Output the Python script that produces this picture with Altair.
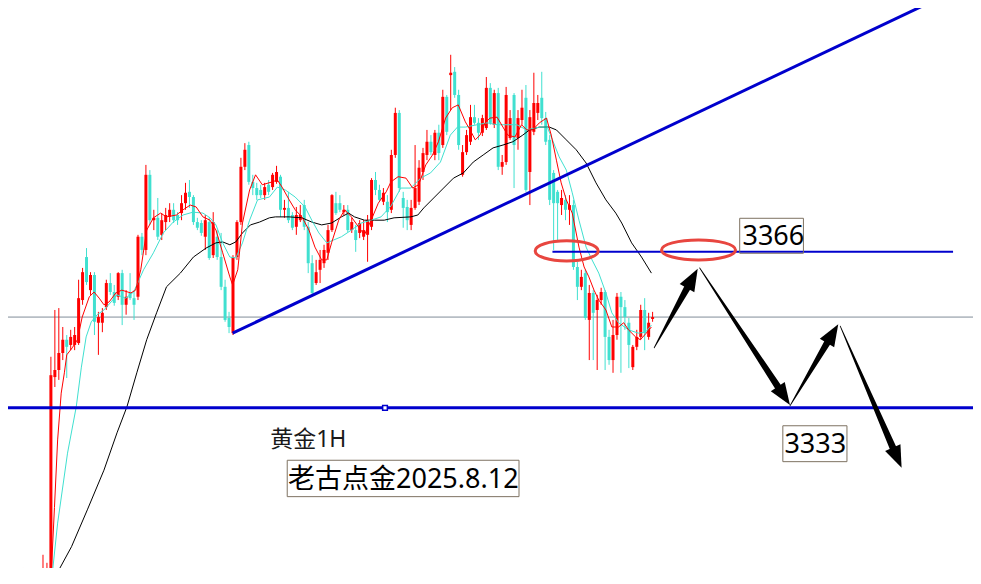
import math
import altair as alt
import pandas as pd

# ---------------- data ----------------
# candle index (one step = one hourly bar)
CANDLE_K = [-5, -4] + list(range(0, 155))

OPEN = [3292.0, 3295.5,
    3294.5, 3296.6, 3295.0, 3339.5, 3341.0, 3344.6, 3347.4, 3346.3, 3346.3, 3346.7,
    3355.8, 3364.9, 3357.9, 3361.1, 3351.0, 3351.0, 3354.3, 3359.4, 3357.5, 3356.5,
    3361.5, 3354.8, 3357.3, 3356.2, 3356.5, 3369.2, 3366.4, 3382.3, 3372.7, 3373.2,
    3369.6, 3372.3, 3373.4, 3374.9, 3373.8, 3374.2, 3376.3, 3378.7, 3377.6, 3372.3,
    3372.1, 3369.2, 3372.3, 3365.3, 3369.2, 3364.9, 3358.6, 3352.0, 3348.8, 3364.9,
    3372.3, 3384.0, 3388.6, 3380.8, 3379.5, 3379.1, 3378.0, 3380.2, 3379.7, 3380.8,
    3381.9, 3374.9, 3375.3, 3373.8, 3371.3, 3372.7, 3375.9, 3371.3, 3363.6, 3359.4,
    3362.2, 3363.6, 3365.8, 3370.6, 3376.3, 3376.3, 3374.4, 3374.9, 3370.6, 3370.6,
    3370.0, 3369.2, 3369.6, 3371.3, 3381.2, 3379.1, 3376.6, 3376.6, 3374.9, 3386.5,
    3395.4, 3377.4, 3375.5, 3371.7, 3375.3, 3376.6, 3382.9, 3386.5, 3389.3, 3386.5,
    3391.2, 3388.6, 3398.8, 3403.4, 3404.1, 3399.2, 3382.3, 3387.1, 3389.3, 3394.5,
    3393.3, 3391.2, 3392.2, 3400.7, 3392.9, 3399.6, 3384.0, 3385.0, 3390.1, 3399.2,
    3390.1, 3393.9, 3398.6, 3382.9, 3391.4, 3395.4, 3398.6, 3394.3, 3389.7, 3382.7,
    3378.7, 3375.9, 3377.0, 3374.9, 3375.9, 3362.8, 3358.6, 3361.5, 3351.6, 3357.3,
    3353.7, 3355.8, 3357.5, 3348.0, 3343.1, 3348.4, 3356.5, 3354.3, 3351.0, 3341.6,
    3345.9, 3348.0, 3353.7, 3348.0, 3351.8]

HIGH = [3299.1, 3296.1,
    3301.9, 3300.2, 3343.8, 3353.7, 3354.1, 3350.1, 3348.4, 3349.5, 3350.1, 3360.1,
    3362.6, 3366.8, 3361.7, 3361.7, 3353.3, 3354.1, 3360.1, 3361.5, 3359.0, 3361.7,
    3362.2, 3357.9, 3361.5, 3357.9, 3369.6, 3370.0, 3384.4, 3383.3, 3374.9, 3377.4,
    3374.2, 3375.3, 3376.3, 3376.3, 3374.4, 3378.0, 3380.6, 3381.2, 3378.0, 3373.2,
    3372.7, 3373.8, 3373.4, 3374.4, 3370.6, 3370.0, 3360.1, 3353.3, 3365.3, 3372.7,
    3385.9, 3389.0, 3389.3, 3382.3, 3380.6, 3380.2, 3380.6, 3381.2, 3382.7, 3384.2,
    3382.3, 3377.0, 3378.7, 3374.4, 3375.5, 3375.9, 3377.0, 3372.3, 3365.3, 3364.3,
    3366.4, 3367.5, 3371.7, 3378.2, 3378.7, 3378.0, 3375.9, 3375.9, 3373.2, 3371.7,
    3372.7, 3372.7, 3373.8, 3381.6, 3382.9, 3380.2, 3379.5, 3378.0, 3387.6, 3396.5,
    3396.0, 3378.7, 3377.0, 3377.0, 3388.6, 3385.4, 3388.0, 3391.8, 3390.7, 3391.8,
    3392.9, 3400.3, 3399.2, 3407.7, 3405.1, 3400.3, 3388.6, 3391.8, 3397.1, 3397.1,
    3394.3, 3395.0, 3403.0, 3401.7, 3400.3, 3400.7, 3386.5, 3400.9, 3396.0, 3399.6,
    3396.0, 3400.3, 3401.3, 3396.0, 3403.9, 3399.2, 3404.1, 3395.6, 3390.7, 3383.3,
    3379.1, 3379.1, 3378.0, 3378.0, 3377.0, 3363.9, 3362.2, 3362.2, 3359.0, 3357.9,
    3356.9, 3358.4, 3357.9, 3349.5, 3351.6, 3357.3, 3357.5, 3355.8, 3352.0, 3346.3,
    3349.5, 3354.8, 3356.2, 3353.1, 3353.3]

LOW = [3290.0, 3291.0,
    3293.0, 3294.0, 3294.0, 3337.4, 3338.9, 3343.1, 3339.3, 3345.2, 3345.2, 3346.3,
    3354.8, 3359.0, 3356.9, 3348.4, 3344.2, 3349.0, 3353.7, 3356.9, 3354.6, 3355.8,
    3350.5, 3352.7, 3355.8, 3351.6, 3355.8, 3365.3, 3365.3, 3371.7, 3370.6, 3368.5,
    3368.5, 3370.6, 3372.3, 3372.1, 3371.7, 3372.7, 3374.9, 3375.3, 3371.7, 3370.6,
    3369.4, 3366.4, 3364.3, 3364.7, 3364.3, 3357.9, 3351.2, 3348.8, 3348.4, 3364.3,
    3371.7, 3383.3, 3380.2, 3378.0, 3377.0, 3377.4, 3377.0, 3378.0, 3379.1, 3380.4,
    3373.4, 3373.2, 3372.1, 3370.6, 3369.6, 3372.3, 3370.6, 3361.5, 3357.0, 3359.0,
    3359.4, 3362.6, 3364.3, 3370.2, 3373.8, 3374.4, 3373.8, 3370.2, 3370.0, 3366.0,
    3368.9, 3368.5, 3363.9, 3370.6, 3378.0, 3376.6, 3375.9, 3372.3, 3374.2, 3385.9,
    3378.7, 3371.1, 3370.6, 3370.6, 3374.9, 3375.9, 3381.2, 3385.4, 3386.5, 3385.4,
    3385.4, 3388.0, 3390.7, 3396.0, 3398.6, 3387.6, 3381.9, 3386.5, 3388.6, 3392.9,
    3389.7, 3390.5, 3391.8, 3392.9, 3392.2, 3383.3, 3382.3, 3384.4, 3389.7, 3379.5,
    3387.6, 3392.9, 3378.7, 3375.9, 3390.7, 3393.9, 3392.9, 3388.6, 3375.9, 3366.4,
    3368.5, 3373.8, 3372.7, 3371.7, 3362.2, 3355.8, 3357.9, 3351.6, 3343.1, 3343.1,
    3341.0, 3354.8, 3341.0, 3342.1, 3340.4, 3347.4, 3340.4, 3349.5, 3341.4, 3341.0,
    3345.2, 3347.4, 3345.2, 3347.4, 3351.2]

CLOSE = [3294.0, 3293.0,
    3299.1, 3298.9, 3339.9, 3341.0, 3344.6, 3347.4, 3345.9, 3348.0, 3348.4, 3356.2,
    3361.7, 3359.6, 3361.1, 3351.2, 3352.2, 3353.1, 3359.4, 3357.5, 3355.2, 3361.5,
    3354.8, 3356.5, 3356.2, 3354.8, 3369.2, 3366.4, 3382.3, 3372.7, 3373.2, 3369.2,
    3372.7, 3373.8, 3374.9, 3372.7, 3372.7, 3376.3, 3378.5, 3377.6, 3372.3, 3371.1,
    3370.0, 3372.7, 3364.7, 3372.3, 3364.9, 3358.6, 3351.6, 3350.1, 3364.9, 3372.3,
    3384.0, 3387.6, 3380.8, 3379.5, 3378.0, 3378.0, 3379.7, 3378.7, 3382.3, 3382.9,
    3374.9, 3375.3, 3372.7, 3371.1, 3373.8, 3373.8, 3371.3, 3363.6, 3357.3, 3361.7,
    3364.3, 3366.4, 3370.6, 3378.0, 3374.2, 3374.9, 3374.9, 3370.6, 3372.3, 3368.5,
    3372.1, 3370.6, 3372.7, 3381.2, 3379.1, 3377.0, 3378.5, 3374.4, 3386.5, 3395.4,
    3379.5, 3375.3, 3372.7, 3375.3, 3379.5, 3383.8, 3386.9, 3389.3, 3387.1, 3391.2,
    3386.9, 3398.8, 3391.4, 3403.9, 3399.2, 3388.6, 3387.1, 3390.7, 3394.5, 3393.3,
    3391.2, 3394.3, 3400.7, 3393.3, 3399.6, 3384.0, 3385.0, 3399.2, 3394.3, 3388.6,
    3394.3, 3396.5, 3379.1, 3394.5, 3397.5, 3397.5, 3394.3, 3389.3, 3377.0, 3376.3,
    3376.3, 3377.4, 3374.9, 3375.9, 3362.8, 3358.6, 3360.7, 3352.0, 3357.3, 3353.1,
    3355.8, 3357.5, 3348.0, 3343.1, 3348.4, 3356.5, 3354.3, 3352.2, 3346.3, 3345.9,
    3348.0, 3353.7, 3348.8, 3351.0, 3352.2]

# moving averages (bar index, price)
MA_FAST_K = [2.1, 2.9, 3.7, 4.6, 5.4, 6.0, 7.4, 8.7, 9.9, 11.7, 12.9, 14.2, 15.4, 16.7, 18.4,
             19.9, 22.2, 23.4, 24.7, 26.2, 27.9, 29.7, 31.2, 33.7, 35.4, 37.2, 38.7, 40.4, 42.2,
             43.7, 45.4, 47.2, 47.9, 49.2, 50.4, 52.2, 53.7, 55.4, 57.9, 59.2, 60.4, 62.2, 63.7,
             65.4, 67.2, 68.7, 70.4, 71.7, 72.9, 74.7, 76.2, 77.9, 79.7, 81.2, 82.9, 84.7, 86.7,
             87.9, 89.7, 91.7, 93.4, 94.9, 96.7, 98.4, 99.9, 101.7, 103.4, 104.9, 106.7, 107.9,
             109.2, 110.4, 111.7, 112.9, 114.7, 116.2, 117.4, 119.2, 120.9, 122.2, 123.7, 125.4,
             127.2, 128.4, 129.7, 130.9, 132.2, 133.7, 135.4, 136.7, 137.9, 139.2, 140.4, 142.2,
             143.7, 145.4, 146.7, 147.9, 149.7, 150.9, 152.4, 153.7]
MA_FAST_P = [3298.1, 3311.9, 3326.2, 3336.1, 3340.4, 3344.2, 3345.7, 3347.4, 3352.2, 3356.5,
             3357.5, 3356.2, 3354.8, 3355.4, 3357.3, 3357.9, 3357.3, 3357.9, 3362.2, 3370.6,
             3373.2, 3374.2, 3373.4, 3373.8, 3374.9, 3375.9, 3375.5, 3373.4, 3372.7, 3370.6,
             3365.8, 3360.7, 3359.0, 3362.2, 3372.1, 3379.1, 3382.3, 3380.2, 3380.8, 3381.2,
             3379.7, 3377.0, 3374.9, 3373.4, 3370.6, 3367.0, 3364.3, 3364.3, 3367.9, 3372.7,
             3374.9, 3373.4, 3371.3, 3369.6, 3372.7, 3376.3, 3378.7, 3380.8, 3381.9, 3381.6,
             3379.5, 3380.2, 3384.4, 3386.5, 3389.3, 3394.3, 3396.5, 3397.1, 3393.5, 3391.8,
             3389.7, 3390.7, 3393.3, 3394.3, 3394.5, 3392.4, 3390.7, 3390.3, 3392.9, 3391.8,
             3391.8, 3393.3, 3394.3, 3390.7, 3385.4, 3380.6, 3377.0, 3374.2, 3367.0, 3362.8,
             3360.7, 3357.9, 3355.8, 3353.7, 3350.1, 3350.1, 3351.0, 3349.5, 3348.0, 3347.4,
             3348.8, 3350.1]

MA_MID_K = [2.1, 3.7, 6.2, 8.4, 9.7, 10.9, 12.2, 13.7, 15.4, 17.2, 18.7, 20.9, 22.9, 25.4,
            27.9, 30.4, 32.9, 35.4, 37.9, 40.4, 42.2, 43.7, 45.4, 47.2, 48.7, 50.4, 52.2, 54.2,
            57.2, 59.2, 61.2, 63.7, 66.2, 67.9, 69.7, 71.7, 73.4, 75.4, 77.9, 80.4, 82.9, 85.4,
            87.9, 90.4, 92.9, 95.4, 97.9, 100.4, 102.9, 104.7, 106.7, 109.7, 112.2, 114.7, 117.2,
            119.7, 122.2, 125.4, 127.4, 128.7, 130.4, 132.2, 133.7, 135.4, 137.2, 138.7, 140.4,
            142.2, 143.7, 145.4, 147.9, 150.4, 152.2, 153.7]
MA_MID_P = [3295.9, 3308.6, 3323.4, 3333.2, 3341.6, 3348.0, 3351.2, 3352.7, 3353.7, 3355.4,
            3356.9, 3356.2, 3357.5, 3362.2, 3365.8, 3370.0, 3372.3, 3373.8, 3374.4, 3374.2,
            3373.2, 3371.7, 3367.9, 3364.9, 3364.7, 3367.9, 3372.7, 3377.0, 3377.6, 3379.7,
            3379.1, 3377.6, 3375.5, 3372.7, 3370.0, 3367.9, 3368.5, 3369.2, 3370.6, 3372.1,
            3372.7, 3373.4, 3375.7, 3379.5, 3379.5, 3381.6, 3382.7, 3385.0, 3390.7, 3392.4,
            3392.4, 3392.9, 3393.3, 3392.9, 3392.9, 3392.9, 3391.8, 3392.4, 3392.4, 3389.7,
            3386.1, 3383.3, 3378.5, 3372.7, 3367.0, 3364.3, 3361.5, 3357.3, 3353.1, 3351.0,
            3349.5, 3348.8, 3349.0, 3350.5]

MA_SLOW_K = [2.2, 7.2, 11.2, 15.4, 18.7, 21.2, 23.7, 26.2, 28.7, 31.2, 34.7, 38.0, 41.2, 43.7,
             45.4, 47.2, 48.7, 50.4, 52.4, 54.7, 57.2, 58.7, 62.2, 65.4, 67.9, 70.4, 72.9, 75.4,
             77.2, 78.7, 81.2, 83.7, 86.2, 88.7, 92.9, 94.7, 96.2, 98.7, 101.2, 103.7, 106.2,
             108.7, 111.2, 113.7, 116.2, 118.7, 121.2, 122.9, 125.4, 127.9, 129.7, 132.2, 134.7,
             137.2, 139.7, 142.2, 144.7, 146.2, 148.7, 151.2, 153.7]
MA_SLOW_P = [3295.9, 3303.6, 3311.4, 3319.8, 3327.7, 3333.2, 3340.4, 3347.4, 3353.1, 3358.6,
             3361.5, 3364.9, 3366.8, 3367.9, 3368.1, 3367.5, 3368.1, 3370.0, 3371.7, 3372.3,
             3373.2, 3373.4, 3373.4, 3373.2, 3372.3, 3371.7, 3372.1, 3373.4, 3374.2, 3373.4,
             3372.7, 3372.7, 3372.7, 3373.2, 3373.4, 3373.8, 3375.3, 3377.4, 3379.5, 3381.6,
             3382.7, 3385.0, 3386.5, 3388.0, 3388.6, 3389.3, 3390.7, 3391.8, 3392.4, 3392.4,
             3391.8, 3389.7, 3387.6, 3384.8, 3380.6, 3377.0, 3374.2, 3372.1, 3367.9, 3364.9,
             3361.5]

# drawn objects (bar index, price)
TREND_K = [47.9, 225.4]
TREND_P = [3348.8, 3419.3]
LEVEL_HIGH = 3366.0
LEVEL_HIGH_K = [128.7, 229.9]
LEVEL_LOW = 3333.0
LEVEL_LOW_HANDLE_K = 86.4
LAST_PRICE = 3352.2

ELLIPSE_K = [132.3, 165.6]
ELLIPSE_P = [3366.2, 3366.4]

ARROW_TAIL_K = [154.4, 165.9, 188.7, 201.4]
ARROW_TAIL_P = [3345.7, 3362.6, 3333.4, 3350.3]
ARROW_TIP_K = [165.4, 188.7, 200.9, 216.9]
ARROW_TIP_P = [3362.4, 3333.6, 3350.7, 3320.3]

LABELS = ["3366", "3333", "黄金1H", "老古点金2025.8.12"]
LABEL_K = [176.7, 187.3, 57.4, 61.9]
LABEL_P = [3367.5, 3323.4, 3324.7, 3316.0]
BOX_K = [176.0, 186.9, 61.7]
BOX_K2 = [192.1, 203.1, 120.25]
BOX_P = [3373.1, 3329.2, 3321.9]
BOX_P2 = [3365.7, 3321.6, 3314.2]

# ---------------- scales ----------------
W, H = 965, 560
X_DOM = [-7.575, -7.575 + W / 4.0]
Y_DOM = [3299.1, 3417.6]
PX_K = W / (X_DOM[1] - X_DOM[0])
PX_P = H / (Y_DOM[1] - Y_DOM[0])

xs = alt.Scale(domain=X_DOM, nice=False, zero=False)
ys = alt.Scale(domain=Y_DOM, nice=False, zero=False)
X = lambda f: alt.X(f, type="quantitative", scale=xs, axis=None)
Y = lambda f: alt.Y(f, type="quantitative", scale=ys, axis=None)

RED = "#ff0000"
CYAN = "#40e0d0"
BLUE = "#0000cd"

candles = pd.DataFrame({"k": CANDLE_K, "o": OPEN, "h": HIGH, "l": LOW, "c": CLOSE})
candles["d"] = ["up" if c >= o else "down" for o, c in zip(candles.o, candles.c)]
cscale = alt.Color("d:N", scale=alt.Scale(domain=["up", "down"], range=[RED, CYAN]), legend=None)

wicks = alt.Chart(candles).mark_rule(strokeWidth=1, clip=True).encode(
    x=X("k"), y=Y("l"), y2="h", color=cscale)
bodies = alt.Chart(candles).mark_bar(size=3, clip=True).encode(
    x=X("k"), y=Y("o"), y2="c", color=cscale)

def ma_layer(ks, ps, col):
    df = pd.DataFrame({"k": ks, "p": ps})
    return alt.Chart(df).mark_line(color=col, strokeWidth=1, clip=True).encode(
        x=X("k"), y=Y("p"), order="k:Q")

ma_slow = ma_layer(MA_SLOW_K, MA_SLOW_P, "black")
ma_mid = ma_layer(MA_MID_K, MA_MID_P, CYAN)
ma_fast = ma_layer(MA_FAST_K, MA_FAST_P, RED)

last_line = alt.Chart(pd.DataFrame({"p": [LAST_PRICE]})).mark_rule(
    color="#808c98", strokeWidth=1).encode(y=Y("p"))
low_line = alt.Chart(pd.DataFrame({"p": [LEVEL_LOW]})).mark_rule(
    color=BLUE, strokeWidth=3).encode(y=Y("p"))
handle = alt.Chart(pd.DataFrame({"k": [LEVEL_LOW_HANDLE_K], "p": [LEVEL_LOW]})).mark_square(
    size=22, filled=True, fill="white", stroke=BLUE, strokeWidth=1.5, opacity=1).encode(
    x=X("k"), y=Y("p"))
high_line = alt.Chart(pd.DataFrame({"k": [LEVEL_HIGH_K[0]], "k2": [LEVEL_HIGH_K[1]],
                                    "p": [LEVEL_HIGH]})).mark_rule(
    color=BLUE, strokeWidth=2, clip=True).encode(x=X("k"), x2="k2", y=Y("p"))
trend = alt.Chart(pd.DataFrame({"k": [TREND_K[0]], "k2": [TREND_K[1]],
                                "p": [TREND_P[0]], "p2": [TREND_P[1]]})).mark_rule(
    color=BLUE, strokeWidth=3, clip=True).encode(x=X("k"), x2="k2", y=Y("p"), y2="p2")

ell1 = alt.Chart(pd.DataFrame({"k": [ELLIPSE_K[0]], "p": [ELLIPSE_P[0]]})).mark_point(
    shape="M -1 0 A 1 0.32 0 1 0 1 0 A 1 0.32 0 1 0 -1 0", filled=False,
    color="#e8463f", strokeWidth=3, size=63 * 63, opacity=1).encode(x=X("k"), y=Y("p"))
ell2 = alt.Chart(pd.DataFrame({"k": [ELLIPSE_K[1]], "p": [ELLIPSE_P[1]]})).mark_point(
    shape="M -1 0 A 1 0.27 0 1 0 1 0 A 1 0.27 0 1 0 -1 0", filled=False,
    color="#e8463f", strokeWidth=3, size=74 * 74, opacity=1).encode(x=X("k"), y=Y("p"))

# arrows: tapered shaft (trail) + triangular head
HEAD_LEN = 22.0
trail_rows, head_rows = [], []
for i, (k0, p0, k1, p1) in enumerate(zip(ARROW_TAIL_K, ARROW_TAIL_P, ARROW_TIP_K, ARROW_TIP_P)):
    dx = (k1 - k0) * PX_K
    dy = -(p1 - p0) * PX_P
    L = math.hypot(dx, dy)
    f = HEAD_LEN * 0.8 / L
    trail_rows.append({"a": i, "o": 0, "k": k0, "p": p0, "w": 0.8})
    trail_rows.append({"a": i, "o": 1, "k": k1 - (k1 - k0) * f, "p": p1 - (p1 - p0) * f, "w": 7.0})
    ang = math.degrees(math.atan2(dx, -dy)) % 360
    head_rows.append({"k": k1, "p": p1, "ang": ang})

shafts = alt.Chart(pd.DataFrame(trail_rows)).mark_trail(color="black").encode(
    x=X("k"), y=Y("p"), size=alt.Size("w:Q", scale=None, legend=None),
    detail="a:N", order="o:Q")
heads = alt.Chart(pd.DataFrame(head_rows)).mark_point(
    shape="M 0 0 L 0.38 1 L -0.38 1 Z", filled=True, color="black", opacity=1,
    size=(2 * HEAD_LEN) ** 2, strokeWidth=0).encode(
    x=X("k"), y=Y("p"), angle=alt.Angle("ang:Q", scale=None))

boxes = alt.Chart(pd.DataFrame({"k": BOX_K, "k2": BOX_K2, "p": BOX_P, "p2": BOX_P2})).mark_rect(
    fillOpacity=0, stroke="#7e7262", strokeWidth=1).encode(
    x=X("k"), x2="k2", y=Y("p"), y2="p2")

lab = pd.DataFrame({"t": LABELS, "k": LABEL_K, "p": LABEL_P})
num_text = alt.Chart(lab.iloc[:2]).mark_text(
    align="left", baseline="alphabetic", font="Noto Sans", fontSize=27, color="#000000").encode(
    x=X("k"), y=Y("p"), text="t:N")
title_text = alt.Chart(lab.iloc[2:3]).mark_text(
    align="left", baseline="alphabetic", font="Noto Sans, Noto Sans CJK SC", fontSize=23,
    color="#1a1a1a").encode(x=X("k"), y=Y("p"), text="t:N")
sig_text = alt.Chart(lab.iloc[3:4]).mark_text(
    align="left", baseline="alphabetic", font="Noto Sans, Noto Sans CJK SC", fontSize=27,
    color="#000000").encode(x=X("k"), y=Y("p"), text="t:N")

chart = alt.layer(
    last_line, wicks, bodies, ma_slow, ma_mid, ma_fast,
    trend, high_line, low_line, handle, ell1, ell2, shafts, heads,
    boxes, num_text, title_text, sig_text,
).properties(
    width=W, height=H, padding=0, autosize=alt.AutoSizeParams(type="none"),
    background="white",
).configure_view(stroke=None)

chart.save("out.html", embed_options={"renderer": "svg", "actions": False})
